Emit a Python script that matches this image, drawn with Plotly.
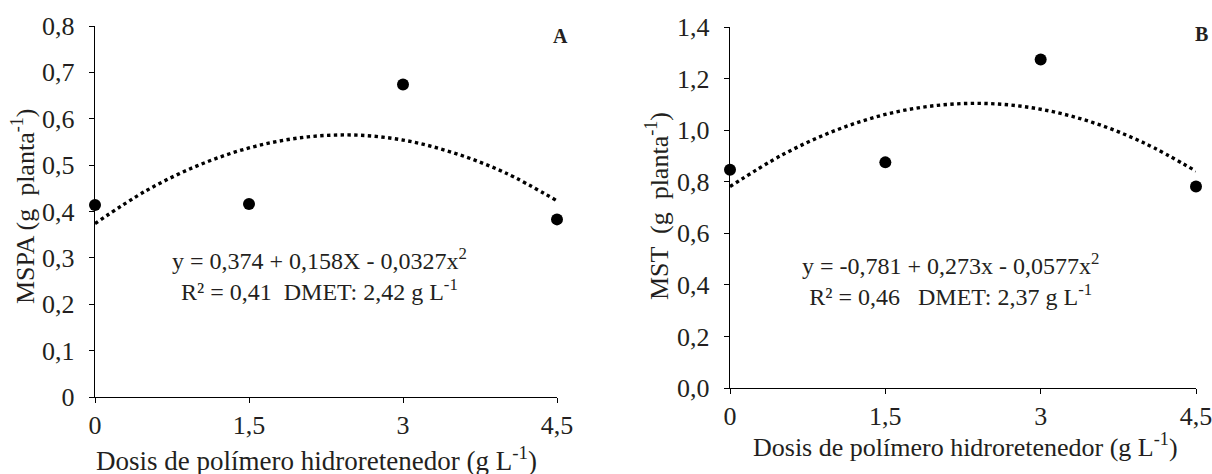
import plotly.graph_objects as go

# Data
doses = [0, 1.5, 3, 4.5]
mspa = [0.414, 0.416, 0.674, 0.383]
mst = [0.846, 0.875, 1.274, 0.781]

# Trend curves
trend_x = [0, 0.5, 1, 1.5, 2, 2.5, 3, 3.5, 4, 4.5]
trend_mspa = [0.374, 0.445, 0.499, 0.537, 0.559, 0.565, 0.554, 0.526, 0.483, 0.423]
trend_mst = [0.781, 0.903, 0.996, 1.061, 1.096, 1.103, 1.081, 1.030, 0.950, 0.841]

x_tickvals = [0, 1.5, 3, 4.5]
x_ticktext = ["0", "1,5", "3", "4,5"]
ya_tickvals = [0, 0.1, 0.2, 0.3, 0.4, 0.5, 0.6, 0.7, 0.8]
ya_ticktext = ["0", "0,1", "0,2", "0,3", "0,4", "0,5", "0,6", "0,7", "0,8"]
yb_tickvals = [0, 0.2, 0.4, 0.6, 0.8, 1.0, 1.2, 1.4]
yb_ticktext = ["0,0", "0,2", "0,4", "0,6", "0,8", "1,0", "1,2", "1,4"]

W, H = 1212, 474
FONT = "Liberation Serif"
TXT = "#231f20"

fig = go.Figure()
fig.add_trace(go.Scatter(x=trend_x, y=trend_mspa, mode="lines", line=dict(color="black", width=3.4, dash="dot", shape="spline"),
                         xaxis="x", yaxis="y", showlegend=False, hoverinfo="skip"))
fig.add_trace(go.Scatter(x=doses, y=mspa, mode="markers", marker=dict(color="black", size=12),
                         xaxis="x", yaxis="y", showlegend=False, cliponaxis=False))
fig.add_trace(go.Scatter(x=trend_x, y=trend_mst, mode="lines", line=dict(color="black", width=3.4, dash="dot", shape="spline"),
                         xaxis="x2", yaxis="y2", showlegend=False, hoverinfo="skip"))
fig.add_trace(go.Scatter(x=doses, y=mst, mode="markers", marker=dict(color="black", size=12),
                         xaxis="x2", yaxis="y2", showlegend=False, cliponaxis=False))

def px_x(p):
    return p / W

def px_y(p):
    return 1 - p / H

axis_common = dict(showgrid=False, zeroline=False, showline=True, linecolor="black", linewidth=1.4,
                   ticks="outside", ticklen=5, tickcolor="black", tickwidth=1.4, automargin=False,
                   ticklabeloverflow="allow",
                   tickfont=dict(family=FONT, size=26, color=TXT))

xtitle = "Dosis de polímero hidroretenedor (g L<sup>-1</sup>)"

def ann(text, x, y, size, angle=0):
    return dict(text=text, xref="paper", yref="paper", x=px_x(x), y=px_y(y), showarrow=False,
                textangle=angle, font=dict(family=FONT, size=size, color=TXT), align="center",
                xanchor="center", yanchor="middle")

fig.update_layout(
    width=W, height=H,
    margin=dict(l=0, r=0, t=0, b=0, autoexpand=False),
    paper_bgcolor="white", plot_bgcolor="white",
    font=dict(family=FONT, color=TXT),
    xaxis=dict(**axis_common, domain=[px_x(95), px_x(557)], range=[0, 4.5], tickvals=x_tickvals, ticktext=x_ticktext,
               anchor="y"),
    yaxis=dict(**axis_common, domain=[px_y(397), px_y(26)], range=[0, 0.8], tickvals=ya_tickvals, ticktext=ya_ticktext,
               anchor="x", ticklabelstandoff=9),
    xaxis2=dict(**axis_common, domain=[px_x(730), px_x(1196)], range=[0, 4.5], tickvals=x_tickvals, ticktext=x_ticktext,
                anchor="y2"),
    yaxis2=dict(**axis_common, domain=[px_y(388), px_y(27)], range=[0, 1.4], tickvals=yb_tickvals, ticktext=yb_ticktext,
                anchor="x2", ticklabelstandoff=9),
    annotations=[
        ann(xtitle, 316, 459, 27),
        ann(xtitle, 965, 445, 26),
        ann("MSPA (g  planta<sup>-1</sup>)", 23, 206, 26, -90),
        ann("MST  (g  planta<sup>-1</sup>)", 657, 206, 26, -90),
        ann("y = 0,374 + 0,158X - 0,0327x<sup>2</sup><br>R² = 0,41  DMET: 2,42 g L<sup>-1</sup>", 319, 274, 24),
        ann("y = -0,781 + 0,273x - 0,0577x<sup>2</sup><br>R² = 0,46   DMET: 2,37 g L<sup>-1</sup>", 950, 279, 24),
        ann("<b>A</b>", 560, 36, 20),
        ann("<b>B</b>", 1201, 34, 20),
    ],
)

fig.write_html("out.html", config={"displayModeBar": False},
               post_script="document.body.style.margin='0';document.body.style.overflow='hidden';")
